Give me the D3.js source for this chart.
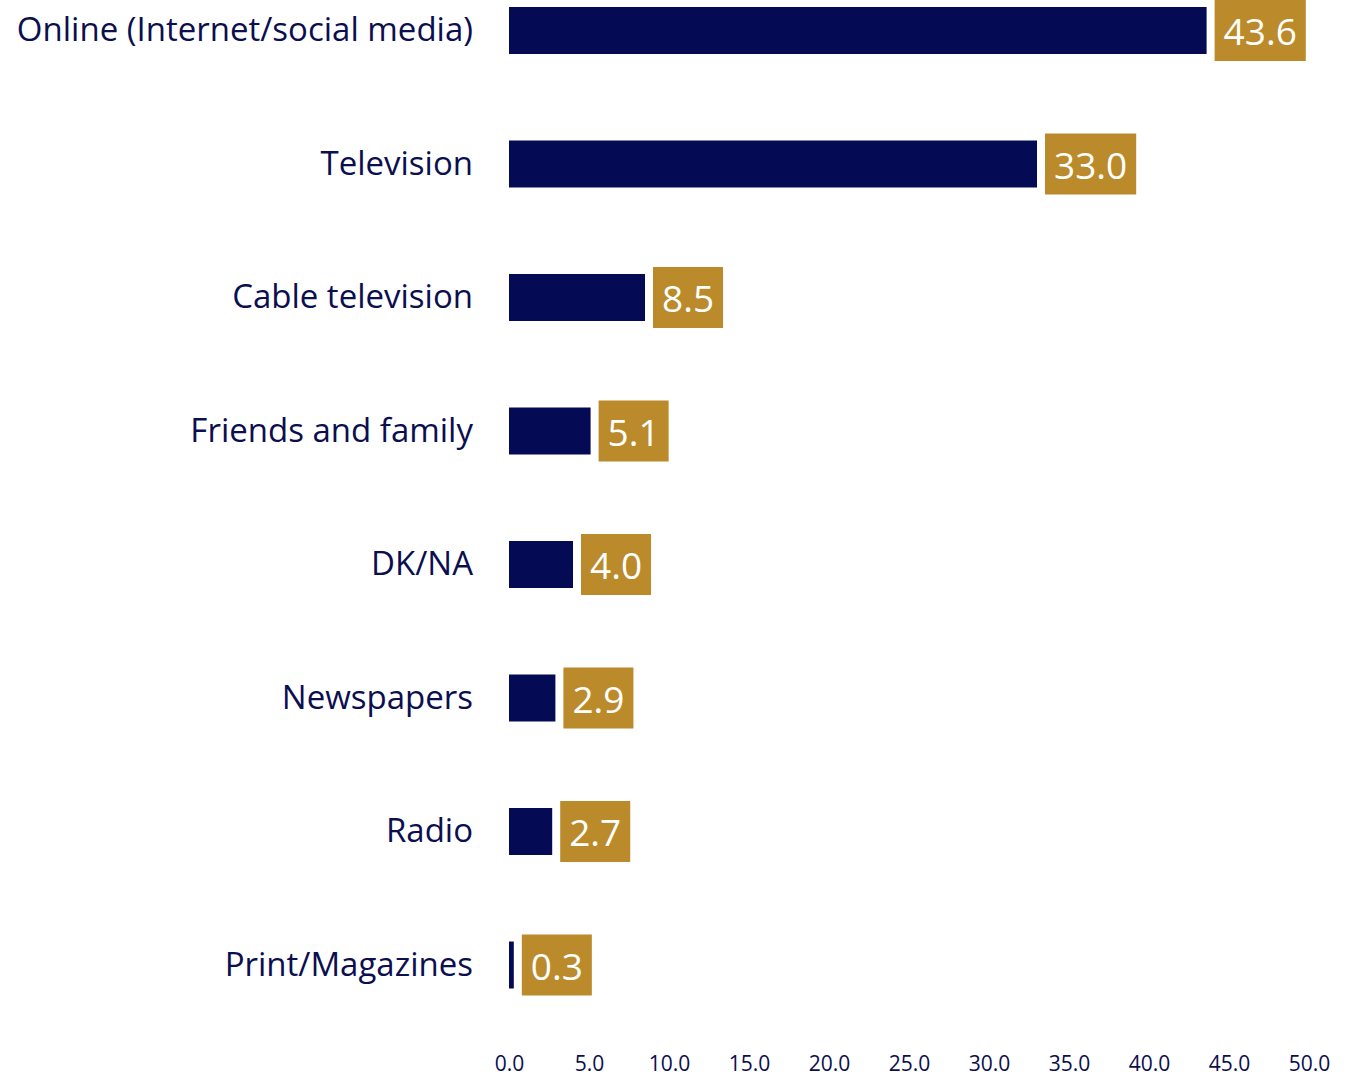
<!DOCTYPE html>
<html><head><meta charset="utf-8">
<script src="https://cdn.jsdelivr.net/npm/d3@7"></script>
<style>body{margin:0;background:#fff}svg{display:block}</style>
</head><body>
<script>
const categories = ["Online (Internet/social media)","Television","Cable television","Friends and family","DK/NA","Newspapers","Radio","Print/Magazines"];
const values = [43.6,33.0,8.5,5.1,4.0,2.9,2.7,0.3];
const ticks = [0,5,10,15,20,25,30,35,40,45,50];

const W=1354,H=1077;
const svg=d3.select("body").append("svg").attr("width",W).attr("height",H);
const x=d3.scaleLinear().domain([0,50]).range([509,1309]);
const y=d3.scaleBand().domain(categories).range([-36.25,1031.75]).paddingInner(0.648).paddingOuter(0.324);
const navy="#050a55", gold="#bb8a2b", txt="#0b0e4f";
const font="'Open Sans', sans-serif";

const data=categories.map((c,i)=>({c,v:values[i]}));
const g=svg.append("g");
g.selectAll("rect.bar").data(data).join("rect").attr("class","bar")
 .attr("x",x(0)).attr("y",d=>y(d.c)).attr("width",d=>x(d.v)-x(0)).attr("height",y.bandwidth()).attr("fill",navy);

g.selectAll("text.cat").data(data).join("text").attr("class","cat")
 .attr("x",473).attr("y",d=>y(d.c)+y.bandwidth()/2-2).attr("text-anchor","end").attr("dominant-baseline","central")
 .attr("font-family",font).attr("font-size",33).attr("fill",txt).text(d=>d.c);

const lab=g.selectAll("g.lab").data(data).join("g").attr("class","lab");
lab.each(function(d){
  const s=d3.select(this);
  const cy=y(d.c)+y.bandwidth()/2;
  const bx=x(d.v)+8;
  const t=s.append("text").attr("font-family",font).attr("font-size",37).attr("fill","#fff")
    .attr("dominant-baseline","central").attr("y",cy).attr("x",bx+9).text(d.v.toFixed(1));
  const tw=t.node().getComputedTextLength();
  s.insert("rect","text").attr("x",bx).attr("y",cy-30.5).attr("width",tw+18).attr("height",61).attr("fill",gold);
});

const ax=svg.append("g").attr("transform","translate(0,1056)")
 .call(d3.axisBottom(x).tickValues(ticks).tickFormat(d3.format(".1f")).tickSize(0).tickPadding(0));
ax.select(".domain").remove();
ax.selectAll("text").attr("font-family",font).attr("font-size",21).attr("fill",txt).attr("dy","0.71em");
</script>
</body></html>
